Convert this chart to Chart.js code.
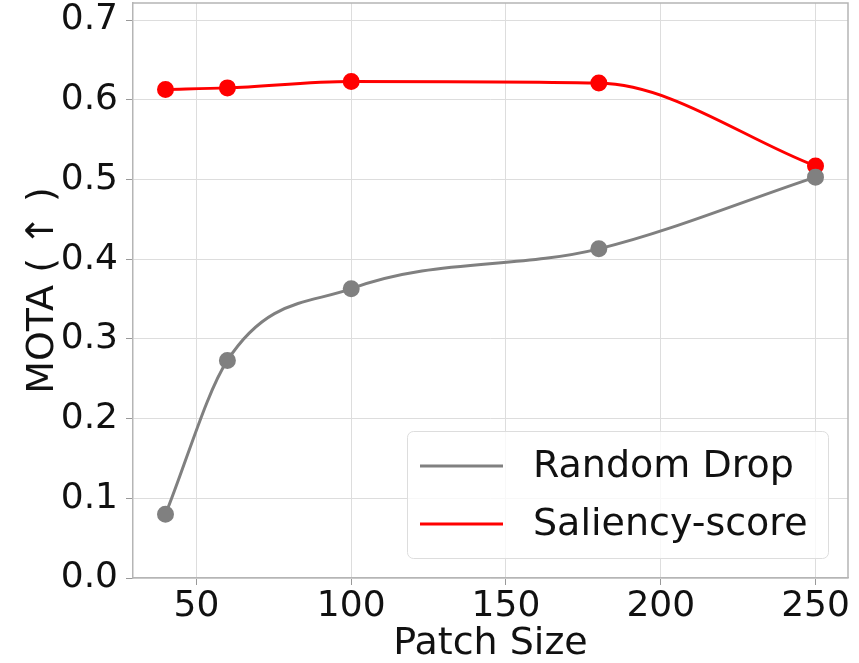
<!DOCTYPE html>
<html>
<head>
<meta charset="utf-8">
<script src="https://cdn.jsdelivr.net/npm/chart.js@4/dist/chart.umd.min.js"></script>
<style>
  html, body { margin: 0; padding: 0; background: #fff; }
  #wrap { width: 859px; height: 663px; }
</style>
</head>
<body>
<div id="wrap"><canvas id="chart" width="859" height="663"></canvas></div>
<script>
const patchSizes = [40, 60, 100, 180, 250];
const randomDrop = [0.080, 0.273, 0.363, 0.413, 0.503];
const saliencyScore = [0.613, 0.615, 0.623, 0.621, 0.517];
const xTicks = [50, 100, 150, 200, 250];
const yTicks = [0, 0.1, 0.2, 0.3, 0.4, 0.5, 0.6, 0.7];

const font = "'DejaVu Sans', sans-serif";

function toPoints(values) {
    return patchSizes.map((x, i) => ({ x: x, y: values[i] }));
}

// top and right spines, so the plot is boxed
const boxFrame = {
    id: 'boxFrame',
    afterDatasetsDraw(chart) {
        const a = chart.chartArea;
        const ctx = chart.ctx;
        ctx.save();
        ctx.strokeStyle = '#b5b5b5';
        ctx.lineWidth = 1.5;
        ctx.beginPath();
        ctx.moveTo(a.left, a.top);
        ctx.lineTo(a.right, a.top);
        ctx.lineTo(a.right, a.bottom);
        ctx.stroke();
        ctx.restore();
    }
};

// legend drawn inside the plot, matplotlib style
const insideLegend = {
    id: 'insideLegend',
    afterDraw(chart) {
        const ctx = chart.ctx;
        const area = chart.chartArea;
        const w = 421, h = 127;
        const x = area.right - 20 - w;
        const y = area.bottom - 20 - h;
        ctx.save();
        ctx.fillStyle = 'rgba(255,255,255,0.8)';
        ctx.strokeStyle = '#dddddd';
        ctx.lineWidth = 1;
        ctx.beginPath();
        ctx.roundRect(x + 0.5, y + 0.5, w, h, 6);
        ctx.fill();
        ctx.stroke();
        ctx.font = '38px ' + font;
        ctx.textBaseline = 'middle';
        chart.data.datasets.forEach((ds, i) => {
            const ly = y + 35 + i * 58;
            ctx.strokeStyle = ds.borderColor;
            ctx.lineWidth = 3;
            ctx.beginPath();
            ctx.moveTo(x + 13, ly);
            ctx.lineTo(x + 96, ly);
            ctx.stroke();
            ctx.fillStyle = '#111';
            ctx.fillText(ds.label, x + 126, ly + 1);
        });
        ctx.restore();
    }
};

new Chart(document.querySelector('#chart').getContext('2d'), {
    type: 'line',
    data: {
        datasets: [{
            label: 'Random Drop',
            data: toPoints(randomDrop),
            borderColor: 'gray',
            backgroundColor: 'gray',
            borderWidth: 3,
            pointRadius: 7,
            cubicInterpolationMode: 'monotone'
        }, {
            label: 'Saliency-score',
            data: toPoints(saliencyScore),
            borderColor: 'red',
            backgroundColor: 'red',
            borderWidth: 3,
            pointRadius: 7,
            cubicInterpolationMode: 'monotone'
        }]
    },
    options: {
        responsive: false,
        animation: false,
        layout: { autoPadding: false, padding: { left: 0, right: 11, top: 3, bottom: 0 } },
        plugins: { legend: { display: false }, tooltip: { enabled: false } },
        scales: {
            x: {
                type: 'linear',
                min: 29.5,
                max: 260.5,
                afterBuildTicks: axis => { axis.ticks = xTicks.map(v => ({ value: v })); },
                afterFit: axis => { axis.height = 85; axis.paddingLeft = 0; axis.paddingRight = 0; },
                ticks: { font: { family: font, size: 36 }, color: '#111', padding: 0, maxRotation: 0 },
                grid: { color: '#dddddd', tickLength: 7, tickColor: '#999' },
                border: { color: '#b5b5b5', width: 1.5 },
                title: { display: true, text: 'Patch Size', font: { family: font, size: 38, lineHeight: 1.0 }, color: '#111', padding: 0 }
            },
            y: {
                min: 0,
                max: 0.7215,
                afterBuildTicks: axis => { axis.ticks = yTicks.map(v => ({ value: v })); },
                afterFit: axis => { axis.width = 133; axis.paddingTop = 0; axis.paddingBottom = 0; },
                ticks: { font: { family: font, size: 36 }, color: '#111', padding: 8, callback: v => v.toFixed(1) },
                grid: { color: '#dddddd', tickLength: 7, tickColor: '#999' },
                border: { color: '#b5b5b5', width: 1.5 },
                title: { display: true, text: 'MOTA ( \u2191 )', font: { family: font, size: 38 }, color: '#111', padding: { top: 20, bottom: 0 } }
            }
        }
    },
    plugins: [boxFrame, insideLegend]
});
</script>
</body>
</html>
